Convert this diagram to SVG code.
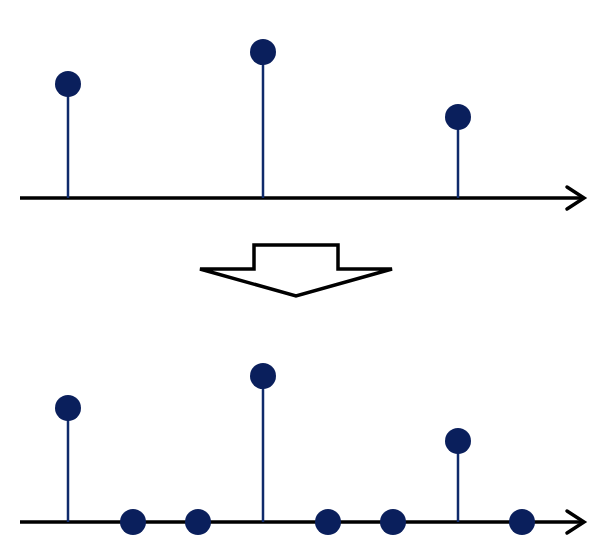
<svg xmlns="http://www.w3.org/2000/svg" width="613" height="558" viewBox="0 0 613 558">
<style>
.axis{stroke:#000;stroke-width:3.5;fill:none}
.head{stroke:#000;stroke-width:3.5;fill:none;stroke-linecap:round;stroke-linejoin:miter}
.stem{stroke:#0f2a6b;stroke-width:2.5}
.dot{fill:#0a1f5c}
.big{fill:#fff;stroke:#000;stroke-width:3.5;stroke-linejoin:miter}
</style>
<rect width="613" height="558" fill="#fff"/>
<g id="connectors">
<line class="axis" x1="20" y1="198" x2="583" y2="198"/>
<polyline class="head" points="567,187 584,198 567,209"/>
<line class="axis" x1="20" y1="522" x2="583" y2="522"/>
<polyline class="head" points="567,511 584,522 567,533"/>
<polygon id="transform-arrow" class="big" points="254,245 338,245 338,269 392,269 296,296 200,269 254,269"/>
</g>
<g id="top-sample-1"><line class="stem" x1="68" y1="84" x2="68" y2="198"/><circle class="dot" cx="68" cy="84" r="13"/></g>
<g id="top-sample-2"><line class="stem" x1="263" y1="52" x2="263" y2="198"/><circle class="dot" cx="263" cy="52" r="13"/></g>
<g id="top-sample-3"><line class="stem" x1="458" y1="117" x2="458" y2="198"/><circle class="dot" cx="458" cy="117" r="13"/></g>
<g id="bot-sample-1"><line class="stem" x1="68" y1="408" x2="68" y2="522"/><circle class="dot" cx="68" cy="408" r="13"/></g>
<g id="bot-zero-1"><circle class="dot" cx="133" cy="522" r="13"/></g>
<g id="bot-zero-2"><circle class="dot" cx="198" cy="522" r="13"/></g>
<g id="bot-sample-2"><line class="stem" x1="263" y1="376" x2="263" y2="522"/><circle class="dot" cx="263" cy="376" r="13"/></g>
<g id="bot-zero-3"><circle class="dot" cx="328" cy="522" r="13"/></g>
<g id="bot-zero-4"><circle class="dot" cx="393" cy="522" r="13"/></g>
<g id="bot-sample-3"><line class="stem" x1="458" y1="441" x2="458" y2="522"/><circle class="dot" cx="458" cy="441" r="13"/></g>
<g id="bot-zero-5"><circle class="dot" cx="522" cy="522" r="13"/></g>
</svg>
